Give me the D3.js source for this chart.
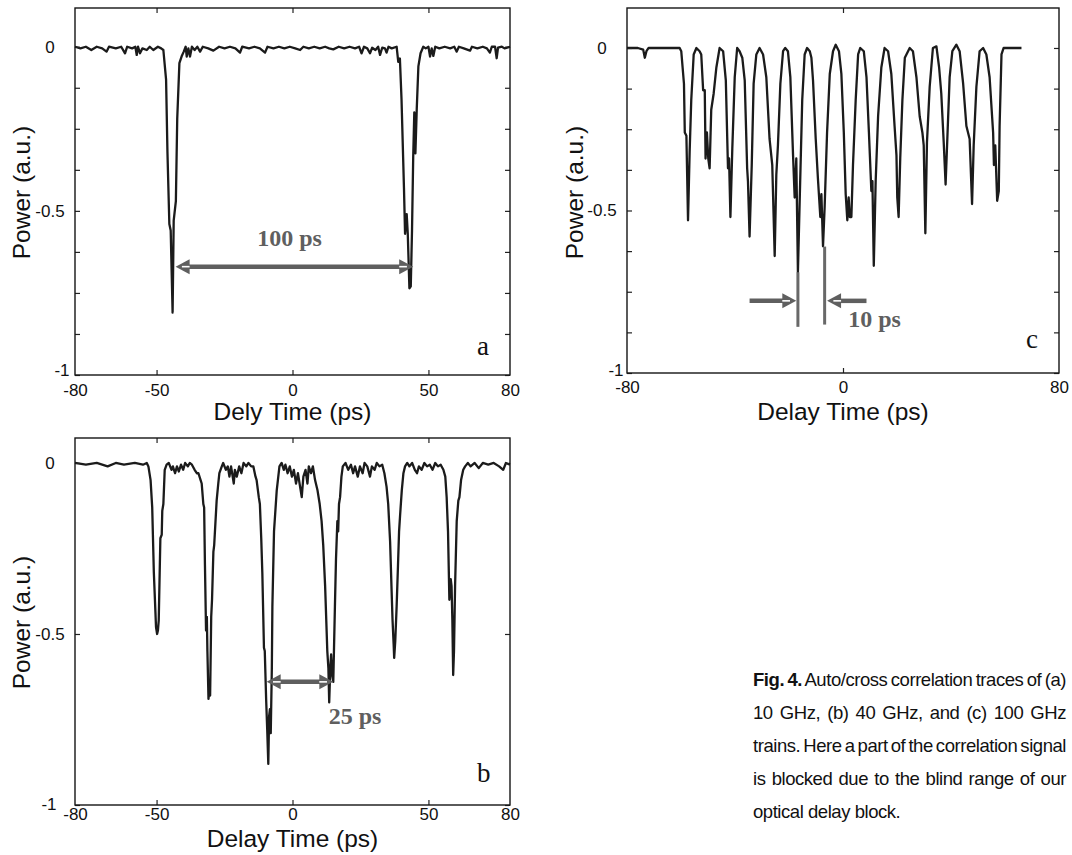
<!DOCTYPE html>
<html><head><meta charset="utf-8">
<script src="https://cdn.jsdelivr.net/npm/d3@7"></script>
<style>body{margin:0;background:#fff} svg{display:block}</style>
</head><body><svg id="fig" width="1072" height="855"></svg>
<script>
// ---------------- DATA ----------------
// Panel (a): 10 GHz trace  [delay ps, power a.u.]
const traceA = [[-80,0],[-78,-0.005],[-76,0],[-74,-0.01],[-72,0],[-70,-0.005],[-68.4,-0.015],[-67.5,0],[-65,-0.005],[-63,0],[-61.6,-0.02],[-60.8,0],[-59,-0.005],[-57.8,0],[-57.3,-0.025],[-56.8,0],[-56.1,-0.02],[-55.2,-0.005],[-53.6,-0.01],[-52.5,0],[-51.2,-0.01],[-49.5,0],[-48.3,-0.005],
[-47.5,-0.01],[-46.5,-0.1],[-46.0,-0.32],[-45.3,-0.54],[-44.8,-0.56],[-44.1,-0.81],[-43.7,-0.53],[-42.9,-0.47],[-42.4,-0.22],[-41.6,-0.05],[-40.8,-0.03],[-40.0,-0.015],[-39.3,0],[-38.9,-0.03],[-38.3,-0.005],[-37.7,-0.03],
[-37,0],[-36,-0.01],[-35,0],[-34,-0.015],[-33,0],[-31,-0.005],[-29.1,-0.012],[-27,0],[-25,-0.005],[-23,0],[-21,-0.005],[-19.3,-0.018],[-18.5,0],[-16,-0.005],[-14,0],[-12,-0.005],[-10.1,-0.018],[-9.2,0],[-7,-0.005],[-5,0],[-3,-0.005],[-1,0],[1,-0.005],[2.8,-0.01],[4,0],[6,-0.005],[8,0],[10,-0.005],[12,0],[13.5,-0.005],[15,-0.008],[17,0],[19,-0.005],[21,0],[23,-0.005],[24.5,0],[25.4,-0.02],[26.3,0],[27.5,-0.005],[28.5,-0.02],[29.3,-0.003],[30.5,-0.01],[31.5,0],[32.2,-0.025],[33,-0.003],[34,-0.005],[34.6,-0.018],[35.3,0],[36.5,-0.005],[38.3,0],
[38.9,-0.046],[39.5,-0.036],[40.1,-0.16],[41.0,-0.43],[41.4,-0.57],[42.0,-0.51],[42.4,-0.57],[43.0,-0.736],[43.5,-0.73],[43.96,-0.56],[44.4,-0.335],[44.8,-0.2],[45.2,-0.325],[45.7,-0.19],[46.3,-0.06],[47.1,-0.02],[48.1,0],
[49,-0.005],[50,0],[50.6,-0.03],[51.2,-0.005],[51.8,-0.028],[52.5,0],[54,-0.005],[56,0],[58,-0.005],[59.5,0],[60.4,-0.015],[61.2,0],[63,-0.005],[65.3,-0.012],[66,0],[68,-0.005],[70,0],[71.5,-0.005],[72.6,-0.018],[73.3,0],[74.5,0],[75.1,-0.035],[75.6,-0.003],[77,0],[78,-0.005],[80,0]];

// Panel (b): 40 GHz trace
const traceB = [[-80,0],[-76,-0.005],[-72,0],[-68,-0.01],[-65,0],[-62,-0.005],[-58,0],[-55,-0.005],[-53.6,0],
[-53.0,-0.01],[-52.2,-0.05],[-51.6,-0.13],[-51.0,-0.32],[-50.2,-0.48],[-49.8,-0.5],[-49.5,-0.49],[-49.2,-0.46],[-48.6,-0.22],[-48.1,-0.21],[-47.9,-0.14],[-47.5,-0.12],[-47.0,-0.02],[-46.3,-0.005],
[-45.5,0],[-44.5,-0.02],[-44,-0.01],[-43.2,-0.03],[-42.5,-0.01],[-41.8,-0.025],[-41,-0.005],[-40.2,-0.02],[-39.5,0],[-38.5,-0.01],[-37.8,0],[-37,-0.005],[-36,-0.02],[-35.2,-0.03],
[-34.6,-0.03],[-33.8,-0.05],[-33.4,-0.06],[-32.8,-0.12],[-32.5,-0.13],[-32.2,-0.3],[-31.8,-0.49],[-31.5,-0.45],[-31.3,-0.55],[-30.9,-0.69],[-30.6,-0.66],[-30.3,-0.68],[-29.9,-0.45],[-29.6,-0.4],[-29.1,-0.26],[-28.8,-0.24],[-27.9,-0.11],[-27.3,-0.06],[-26.9,-0.03],[-26,-0.01],
[-25.5,0],[-24.5,-0.02],[-23.8,-0.01],[-23.2,-0.04],[-22.6,-0.01],[-21.6,-0.06],[-21.2,-0.02],[-20.5,-0.04],[-19.6,-0.01],[-18.8,-0.03],[-18,0],[-17,-0.01],[-16.2,0],[-15.2,-0.01],
[-14.4,-0.01],[-13.6,-0.04],[-13.2,-0.05],[-12.4,-0.1],[-12,-0.12],[-11.5,-0.22],[-11.1,-0.32],[-10.5,-0.54],[-10.2,-0.55],[-9.7,-0.69],[-9.3,-0.78],[-8.9,-0.88],[-8.6,-0.74],[-8.3,-0.72],[-8.0,-0.79],[-7.6,-0.6],[-7.4,-0.42],[-6.8,-0.2],[-5.8,-0.08],[-4.8,-0.01],
[-4,0],[-3.2,-0.02],[-2.6,-0.005],[-1.8,-0.03],[-1,-0.01],[-0.2,-0.04],[0.5,-0.02],[1.3,-0.06],[2,-0.03],[2.8,-0.07],[3.4,-0.1],[4,-0.04],[4.8,-0.02],[5.5,-0.06],[6,-0.01],[6.8,-0.03],[7.5,-0.01],[8.3,-0.05],
[9.2,-0.08],[10,-0.12],[10.7,-0.17],[11.3,-0.24],[12.0,-0.36],[12.8,-0.55],[13.2,-0.6],[13.5,-0.7],[13.9,-0.6],[14.2,-0.56],[14.6,-0.62],[15.0,-0.64],[15.6,-0.42],[16.0,-0.28],[16.5,-0.17],[16.8,-0.2],[17.1,-0.12],[17.5,-0.1],[18.0,-0.04],[18.5,-0.01],
[19.5,0],[20.5,-0.02],[21.5,-0.005],[22.3,-0.03],[23,-0.01],[24,-0.04],[24.8,-0.01],[25.8,-0.03],[26.5,0],[27.5,-0.01],[28.5,-0.04],[29.2,-0.01],[30.2,-0.02],[31,0],[32,-0.01],[33,-0.005],[33.8,-0.03],
[34.6,-0.07],[35.2,-0.12],[35.9,-0.23],[36.4,-0.36],[36.8,-0.46],[37.2,-0.53],[37.4,-0.57],[37.8,-0.52],[38.3,-0.42],[38.8,-0.3],[39.2,-0.2],[39.6,-0.15],[40.2,-0.08],[40.8,-0.03],[41.4,-0.01],
[42.2,0],[43,-0.01],[44,0],[45,-0.02],[45.8,-0.03],[46.5,-0.01],[47.5,-0.02],[48.5,0],[49.5,-0.01],[50.5,-0.005],[51.5,-0.02],[52.5,0],[53.5,-0.01],[54.5,-0.005],[55.5,-0.02],[56.2,-0.04],
[56.7,-0.1],[57.2,-0.2],[57.7,-0.4],[58.2,-0.34],[58.5,-0.36],[58.8,-0.46],[59.1,-0.62],[59.4,-0.55],[59.8,-0.36],[60.4,-0.17],[61.0,-0.11],[61.4,-0.1],[62.0,-0.05],[62.8,-0.02],[63.5,-0.01],
[64.5,0],[65.5,-0.01],[67,0],[68.5,-0.015],[70,0],[72,-0.005],[74,0],[76,-0.01],[77.5,-0.02],[78.5,0],[80,-0.005]];

// Panel (c): 100 GHz trace
const traceC = [[-80,0],[-76,0],[-74,-0.005],[-73.4,-0.03],[-72.8,-0.01],[-72,0],[-66,0],[-60.5,0],
[-59.9,-0.01],[-58.9,-0.11],[-58.6,-0.26],[-58.0,-0.27],[-57.4,-0.53],[-56.8,-0.32],[-56.2,-0.16],[-55.3,-0.02],[-54.3,0],[-53.1,-0.01],[-52.5,-0.02],[-51.8,-0.13],[-51.2,-0.13],[-50.9,-0.34],[-50.4,-0.26],[-49.9,-0.34],[-49.4,-0.37],[-48.8,-0.19],[-47.9,-0.14],[-46.9,-0.06],[-45.7,0],
[-44.4,-0.01],[-43.4,-0.1],[-42.6,-0.37],[-42.2,-0.34],[-41.7,-0.52],[-41.0,-0.31],[-40.1,-0.09],[-39.2,0],
[-38.3,-0.01],[-37.3,-0.03],[-36.4,-0.1],[-35.5,-0.37],[-35.2,-0.41],[-34.6,-0.58],[-33.8,-0.36],[-33.1,-0.11],[-32.1,-0.02],[-30.9,0],
[-29.6,-0.02],[-28.4,-0.09],[-27.2,-0.28],[-26.2,-0.36],[-25.3,-0.64],[-24.7,-0.39],[-24.1,-0.3],[-23.2,-0.11],[-22.2,-0.01],[-21.4,0],
[-20.4,-0.01],[-19.5,-0.09],[-18.5,-0.33],[-17.9,-0.46],[-17.3,-0.34],[-16.7,-0.69],[-15.8,-0.39],[-15.1,-0.16],[-14.2,-0.02],[-13.3,0],
[-12.3,-0.01],[-11.7,-0.03],[-11.1,-0.1],[-10.1,-0.28],[-9.3,-0.4],[-8.4,-0.52],[-8.0,-0.45],[-7.4,-0.61],[-6.8,-0.49],[-5.9,-0.26],[-4.9,-0.08],[-3.7,-0.01],[-2.7,0.01],
[-1.5,-0.01],[-0.6,-0.08],[0.3,-0.26],[1.0,-0.45],[1.6,-0.53],[2.1,-0.46],[2.5,-0.52],[3.1,-0.52],[3.7,-0.36],[4.7,-0.16],[5.6,-0.02],[6.4,0],
[7.7,-0.01],[8.7,-0.09],[9.6,-0.26],[10.5,-0.44],[10.9,-0.41],[11.4,-0.67],[12.1,-0.41],[13.0,-0.21],[14.2,-0.06],[15.4,0],
[16.7,-0.01],[17.9,-0.08],[19.1,-0.24],[19.8,-0.33],[20.1,-0.46],[20.6,-0.52],[21.2,-0.34],[22.0,-0.16],[22.9,-0.03],[24.7,0],
[25.9,-0.01],[27.2,-0.09],[28.4,-0.21],[29.4,-0.26],[29.9,-0.3],[30.5,-0.57],[31.1,-0.29],[32.1,-0.12],[33.3,0],[34.6,0.005],
[35.6,-0.06],[36.4,-0.14],[37.3,-0.29],[38.0,-0.42],[38.5,-0.31],[39.5,-0.09],[40.5,-0.01],[42.0,0.01],
[43.2,-0.01],[44.5,-0.11],[45.7,-0.24],[46.9,-0.28],[47.8,-0.48],[48.4,-0.3],[49.4,-0.12],[50.6,-0.01],[51.9,0],
[53.1,-0.02],[54.3,-0.09],[55.6,-0.26],[55.9,-0.36],[56.4,-0.3],[57.1,-0.47],[57.7,-0.44],[58.0,-0.24],[58.7,-0.02],[59.5,0],[62,0],[66.1,0]];

// axis ticks and labels
const xLabelsAB = [-80, -50, 0, 50, 80];
const xLabelsC = [-80, 0, 80];
const xInnerTicksAB = [-50, 0, 50];
const xInnerTicksC = [0];
const yLabels = [0, -0.5, -1];
const yFineTicks = [0, -0.125, -0.25, -0.375, -0.5, -0.625, -0.75, -0.875, -1];
const xTitles = ["Dely Time (ps)", "Delay Time (ps)", "Delay Time (ps)"];
const yTitle = "Power (a.u.)";
const panelLetters = ["a", "b", "c"];

// annotations (data units): [from ps, to ps, level]
const arrowA = [-43.0, 44.4, -0.67];
const arrowB = [-9.5, 15.0, -0.64];
const textA = ["100 ps", -1.1, -0.607];
const textB = ["25 ps", 23.0, -0.763];
const textC = ["10 ps", 11.7, -0.857];
const markersC = [[-16.7, -0.69, -0.858], [-6.8, -0.611, -0.851]];
const arrowsC = [[-34.6, -17.3, -0.778], [8.7, -5.9, -0.778]];

const captionLines = [
  ["Fig. 4.", " Auto/cross correlation traces of (a)"],
  ["", "10 GHz, (b) 40 GHz, and (c) 100 GHz"],
  ["", "trains. Here a part of the correlation signal"],
  ["", "is blocked due to the blind range of our"],
  ["", "optical delay block."]
];

// ---------------- DRAWING ----------------
const svg = d3.select("#fig");
const SANS = "'Liberation Sans', Arial, sans-serif";
const SERIF = "'Liberation Serif', 'Times New Roman', serif";
const LINE = "#1b1b1b", GREY = "#5f5f5f";
const fmtTick = d => String(d);

function drawPanel(cfg) {
  const g = svg.append("g");
  const x = d3.scaleLinear().domain([-80, 80]).range([cfg.left, cfg.right]);
  const y = d3.scaleLinear().domain([-1, cfg.ymax]).range([cfg.bottom, cfg.top]);

  g.append("path").datum(cfg.trace)
    .attr("d", d3.line().x(d => x(d[0])).y(d => y(d[1])))
    .attr("fill", "none").attr("stroke", LINE).attr("stroke-width", 2.3)
    .attr("stroke-linejoin", "round");

  const tk = 5;
  g.append("g").attr("transform", `translate(0,${cfg.bottom})`)
    .call(d3.axisBottom(x).tickValues(cfg.xLabels).tickSizeInner(0).tickSizeOuter(0).tickPadding(cfg.xPad).tickFormat(fmtTick));
  g.append("g").attr("transform", `translate(0,${cfg.bottom})`)
    .call(d3.axisBottom(x).tickValues(cfg.xTicks).tickSize(-tk).tickFormat(""));
  g.append("g").attr("transform", `translate(0,${cfg.top})`)
    .call(d3.axisTop(x).tickValues(cfg.xTicks).tickSize(-tk).tickFormat(""));
  const leftAx = g.append("g").attr("transform", `translate(${cfg.left},0)`)
    .call(d3.axisLeft(y).tickValues(yLabels).tickSizeInner(0).tickSizeOuter(0).tickPadding(0).tickFormat(fmtTick));
  g.append("g").attr("transform", `translate(${cfg.left},0)`)
    .call(d3.axisLeft(y).tickValues(cfg.yTicks).tickSize(-tk).tickFormat(""));
  g.append("g").attr("transform", `translate(${cfg.right},0)`)
    .call(d3.axisRight(y).tickValues(cfg.yTicks).tickSize(-tk).tickFormat(""));
  g.selectAll(".domain").remove();
  g.selectAll(".tick line").attr("stroke", "#222").attr("stroke-width", 1.2);
  g.selectAll(".tick text").attr("fill", "#111").attr("font-family", SANS).attr("font-size", 17);

  leftAx.selectAll(".tick text").attr("text-anchor", "middle").attr("x", -25);
  leftAx.selectAll(".tick text").filter(d => d === -1)
    .attr("x", cfg.m1dx).attr("y", cfg.m1dy).attr("dy", "0.32em");

  g.append("rect").attr("x", cfg.left).attr("y", cfg.top)
    .attr("width", cfg.right - cfg.left).attr("height", cfg.bottom - cfg.top)
    .attr("fill", "none").attr("stroke", "#151515").attr("stroke-width", 1.4);

  g.append("text").attr("x", (cfg.left + cfg.right) / 2).attr("y", cfg.xTitleY)
    .attr("text-anchor", "middle").attr("font-family", SANS).attr("font-size", 24.5)
    .attr("fill", "#111").text(cfg.xTitle);
  g.append("text").attr("transform", `translate(${cfg.yTitleX},${(cfg.top + cfg.bottom) / 2 + cfg.yTitleShift}) rotate(-90)`)
    .attr("text-anchor", "middle").attr("font-family", SANS).attr("font-size", 24.5)
    .attr("fill", "#111").text(yTitle);

  g.append("text").attr("x", cfg.right - 33).attr("y", cfg.letterY)
    .attr("font-family", SERIF).attr("font-size", 27).attr("fill", "#111").text(cfg.letter);

  return {g, x, y};
}

function arrowHead(g, tx, ty, dir) {
  const L = 14, H = 7.5;
  g.append("path")
    .attr("d", `M${tx},${ty} L${tx - dir * L},${ty - H} L${tx - dir * L},${ty + H} Z`)
    .attr("fill", GREY);
  g.append("line").attr("x1", tx - dir * L * 0.45).attr("x2", tx - dir * L).attr("y1", ty).attr("y2", ty)
    .attr("stroke", "#fff").attr("stroke-width", 1.6);
}

function doubleArrow(p, a) {
  const x1 = p.x(a[0]), x2 = p.x(a[1]), yy = p.y(a[2]);
  p.g.append("line").attr("x1", x1 + 10).attr("x2", x2 - 10).attr("y1", yy).attr("y2", yy)
    .attr("stroke", GREY).attr("stroke-width", 4.5);
  arrowHead(p.g, x1, yy, -1);
  arrowHead(p.g, x2, yy, 1);
}

function singleArrow(p, a) {
  const x1 = p.x(a[0]), x2 = p.x(a[1]), yy = p.y(a[2]);
  const dir = x2 > x1 ? 1 : -1;
  p.g.append("line").attr("x1", x1).attr("x2", x2 - dir * 10).attr("y1", yy).attr("y2", yy)
    .attr("stroke", GREY).attr("stroke-width", 4.5);
  arrowHead(p.g, x2, yy, dir);
}

function annText(p, t) {
  p.g.append("text").attr("x", p.x(t[1])).attr("y", p.y(t[2]))
    .attr("text-anchor", "middle").attr("font-family", SERIF).attr("font-weight", "bold")
    .attr("font-size", 24).attr("fill", GREY).text(t[0]);
}

const pA = drawPanel({trace: traceA, left: 75, right: 510, top: 8, bottom: 375, ymax: 0.118,
  xLabels: xLabelsAB, xTicks: xInnerTicksAB, yTicks: yFineTicks, xPad: 9,
  m1dx: -13, m1dy: -5, xTitle: xTitles[0], xTitleY: 420, yTitleX: 30, yTitleShift: 1,
  letter: panelLetters[0], letterY: 355});
const pB = drawPanel({trace: traceB, left: 75, right: 510, top: 438, bottom: 805, ymax: 0.073,
  xLabels: xLabelsAB, xTicks: xInnerTicksAB, yTicks: yLabels, xPad: 3,
  m1dx: -26, m1dy: -1, xTitle: xTitles[1], xTitleY: 847, yTitleX: 30, yTitleShift: 1,
  letter: panelLetters[1], letterY: 782});
const pC = drawPanel({trace: traceC, left: 627, right: 1059, top: 8, bottom: 373, ymax: 0.123,
  xLabels: xLabelsC, xTicks: xInnerTicksC, yTicks: yFineTicks, xPad: 8,
  m1dx: -11, m1dy: -3, xTitle: xTitles[2], xTitleY: 420, yTitleX: 583, yTitleShift: 2,
  letter: panelLetters[2], letterY: 348});

doubleArrow(pA, arrowA);
annText(pA, textA);
doubleArrow(pB, arrowB);
annText(pB, textB);

markersC.forEach(m => {
  pC.g.append("line").attr("x1", pC.x(m[0])).attr("x2", pC.x(m[0]))
    .attr("y1", pC.y(m[1])).attr("y2", pC.y(m[2]))
    .attr("stroke", "#686868").attr("stroke-width", 3);
});
arrowsC.forEach(a => singleArrow(pC, a));
annText(pC, textC);

// caption, justified
const capLeft = 753, capRight = 1066, capTop = 686, capLH = 33;
captionLines.forEach((ln, i) => {
  const t = svg.append("text").attr("x", capLeft).attr("y", capTop + i * capLH)
    .attr("font-family", SANS).attr("font-size", 18.5).attr("letter-spacing", -0.45).attr("fill", "#111");
  if (ln[0]) t.append("tspan").attr("font-weight", "bold").text(ln[0]);
  t.append("tspan").text(ln[1]);
  if (i < captionLines.length - 1) {
    const full = ln[0] + ln[1];
    const nSp = (full.match(/ /g) || []).length;
    const w = t.node().getComputedTextLength();
    t.attr("word-spacing", (capRight - capLeft - w) / nSp);
  }
});
</script></body></html>
